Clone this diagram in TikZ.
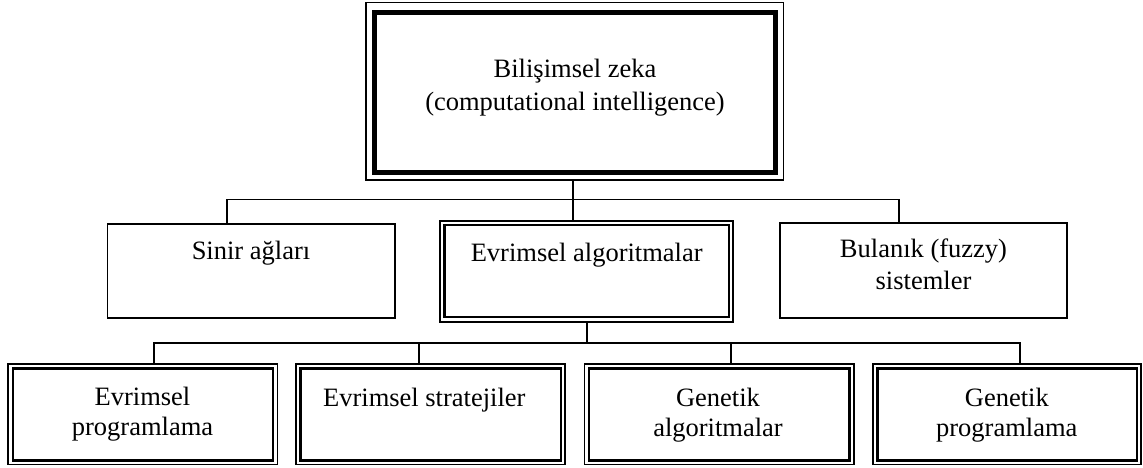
\documentclass[tikz,border=0pt]{standalone}
\usepackage{fontspec}
\setmainfont{Liberation Serif}
\begin{document}
\begin{tikzpicture}[x=1pt,y=-1pt,
  box/.style={draw, line width=1.7pt, inner sep=0pt, minimum width=#1},
  inner/.style={line width=2.5pt},
  txt/.style={font=\fontsize{26.5}{31}\selectfont, align=center, inner sep=0pt, anchor=base},
  link/.style={line width=1.7pt}]
\useasboundingbox[fill=white] (0,0) rectangle (1143,468);

% top box: thin outer line, thick inner line
\node[box=417.7pt, line width=1.5pt, minimum height=177.5pt] (ci) at (574.65,91.25) {};
\draw[line width=5pt] ([xshift=9pt,yshift=-10.5pt]ci.north west) rectangle ([xshift=-9pt,yshift=8pt]ci.south east);
\node[txt] (cit) at (575,77.5) {Bilişimsel zeka};
\node[txt] (cit2) at (575,111) {(computational intelligence)};

% middle row
\node[box=287.3pt, minimum height=94.6pt] (sa) at (251.15,271) {};
\node[box=293.3pt, minimum height=100.9pt] (ea) at (586.65,271.25) {};
\draw[inner] ([xshift=5.4pt,yshift=-5.2pt]ea.north west) rectangle ([xshift=-5.4pt,yshift=5.4pt]ea.south east);
\node[box=287pt, minimum height=95pt] (ba) at (923.2,270.8) {};

\node[txt] at (251,259) {Sinir ağları};
\node[txt] at (586.7,261.7) {Evrimsel algoritmalar};
\node[txt] at (923.5,257.7) {Bulanık (fuzzy)};
\node[txt] at (923.5,289.3) {sistemler};

% bottom row
\foreach \n/\cx/\w in {ep/142.9/269.2, es/430.75/269.1, ga/719.15/269.3, gp/1007/268.4} {
  \node[box=\w pt, minimum height=100.2pt] (\n) at (\cx,414.4) {};
  \draw[inner] ([xshift=5.3pt,yshift=-5.2pt]\n.north west) rectangle ([xshift=-5.3pt,yshift=5pt]\n.south east);
}
\node[txt] at (142.5,405) {Evrimsel};
\node[txt] at (142.5,435) {programlama};
\node[txt] at (424.3,406) {Evrimsel stratejiler};
\node[txt] at (718,406) {Genetik};
\node[txt] at (718,436) {algoritmalar};
\node[txt] at (1006.8,406) {Genetik};
\node[txt] at (1006.8,436) {programlama};

% connectors
\coordinate (busA) at (573.2,199.5);
\coordinate (busB) at (586.8,343.2);
\coordinate (sa-in) at ([xshift=-24.35pt]sa.north);
\coordinate (ba-in) at ([xshift=-24pt]ba.north);
\coordinate (ep-in) at ([xshift=11.4pt]ep.north);
\coordinate (es-in) at ([xshift=-11.55pt]es.north);
\coordinate (ga-in) at ([xshift=11.85pt]ga.north);
\coordinate (gp-in) at ([xshift=12.8pt]gp.north);

\draw[link] (ci.south -| busA) -- (ea.north -| busA);
\draw[link] (sa-in) |- (ba-in |- busA) -- (ba-in);
\draw[link] (ea.south) -- (ea.south |- busB);
\draw[link] (ep-in) |- (gp-in |- busB) -- (gp-in);
\draw[link] (es-in) -- (es-in |- busB);
\draw[link] (ga-in) -- (ga-in |- busB);
\end{tikzpicture}
\end{document}
